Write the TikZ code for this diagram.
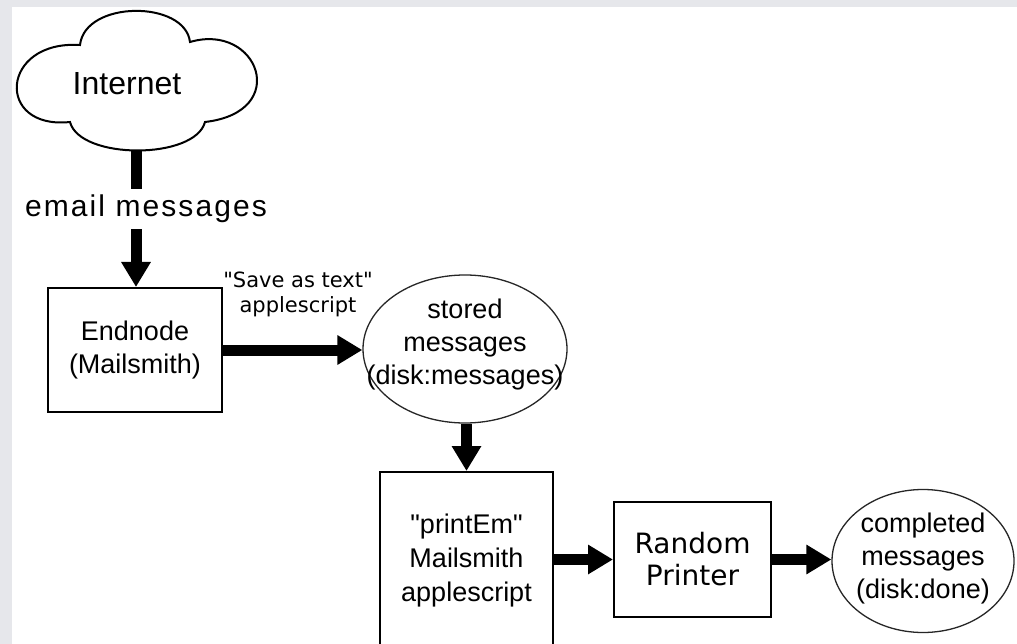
\documentclass[tikz,border=0pt]{standalone}
\usepackage{fontspec}
\setmainfont{Liberation Sans}
\newfontfamily\dvs{DejaVu Sans}
\newfontfamily\plain{Liberation Sans}
\newfontfamily\spaced[LetterSpace=7]{Liberation Sans}
\usetikzlibrary{shapes.geometric,arrows.meta}
\definecolor{bggray}{HTML}{E6E7EB}
\begin{document}
\begin{tikzpicture}[x=1pt,y=-1pt,
  boxnode/.style={draw=black, line width=2pt, fill=white, align=center, inner sep=0pt},
  storenode/.style={ellipse, draw=black!85, line width=1.3pt, fill=white, inner sep=0pt},
  txt/.style={align=center, inner sep=0pt, font=\fontsize{27}{33}\selectfont},
  flow/.style={line width=11pt, -{Triangle[length=25pt,width=28pt]}}]
  % background and frame
  \fill[bggray] (0,0) rectangle (1017,644);
  \fill[white] (12,7) rectangle (1017,644);
  \useasboundingbox (0,0) rectangle (1017,644);
  % cloud
  \draw[line width=2pt, fill=white]
    (80,45) .. controls (85,0) and (185,0) .. (190,42)
    .. controls (258,22) and (292,112) .. (205,122)
    .. controls (195,160) and (80,160) .. (70,122)
    .. controls (-5,130) and (0,40) .. cycle;
  \node[inner sep=0pt, font=\fontsize{32}{38}\selectfont] (inet) at (127,84) {Internet};
  \coordinate (inetb) at (136,150);
  % nodes
  \node[boxnode, minimum width=174pt, minimum height=124pt, font=\fontsize{27}{33}\selectfont] (endnode) at (135,350) {Endnode\\(Mailsmith)};
  \node[storenode, minimum width=204pt, minimum height=148pt] (stored) at (465,349) {};
  \node[txt] (storedtxt) at (465,345) {stored\\messages\\(disk:messages)};
  \node[boxnode, minimum width=173pt, minimum height=178pt, font=\plain\fontsize{27}{34}\selectfont] (printem) at (466.5,561) {"printEm"\\Mailsmith\\applescript};
  \node[boxnode, minimum width=157pt, minimum height=115pt, font=\dvs\fontsize{28}{32}\selectfont] (random) at (692.5,559.5) {Random\\Printer};
  \node[storenode, minimum width=182pt, minimum height=143pt] (completed) at (923,561) {};
  \node[txt] (completedtxt) at (923,559) {completed\\messages\\(disk:done)};
  % connectors
  \draw[flow] (inetb) -- node[pos=0.43, xshift=10pt, fill=white, inner xsep=3pt, inner ysep=6pt, font=\spaced\fontsize{30}{36}\selectfont] (emaillbl) {email messages} (inetb |- endnode.north);
  \draw[flow] (endnode.east) -- (endnode.east -| stored.west);
  \node[align=center, inner sep=0pt, font=\dvs\fontsize{21}{25}\selectfont] (savelbl) at (298,294) {"Save as text"\\applescript};
  \draw[flow] (stored.south -| printem.north) -- (printem.north);
  \draw[flow] (printem.east |- random.west) -- (random.west);
  \draw[flow] (random.east) -- (random.east -| completed.west);
\end{tikzpicture}
\end{document}
